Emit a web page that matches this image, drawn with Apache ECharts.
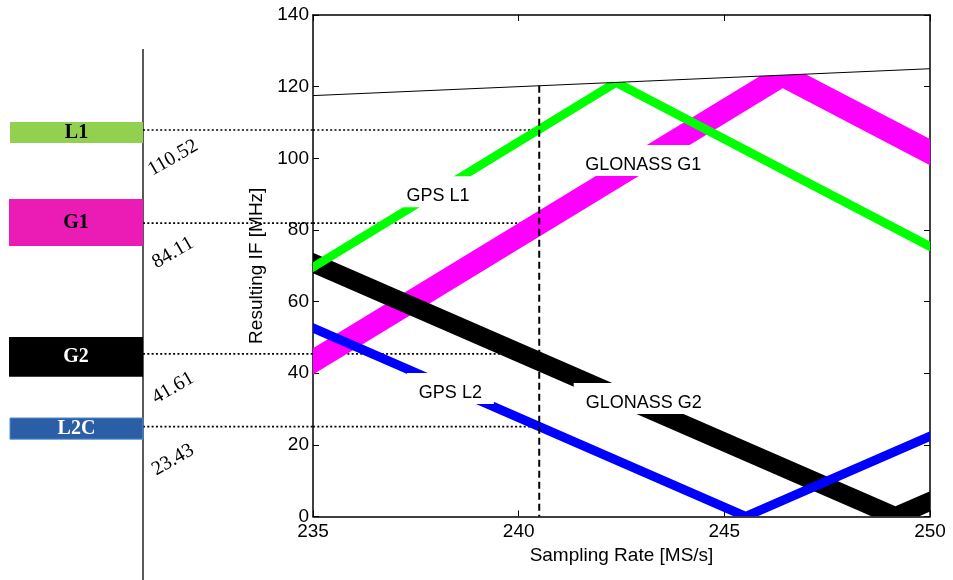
<!DOCTYPE html>
<html><head><meta charset="utf-8">
<script src="https://cdn.jsdelivr.net/npm/echarts@6/dist/echarts.min.js"></script>
<style>html,body{margin:0;padding:0;background:#fff}#c{width:953px;height:580px}</style>
</head><body><div id="c"></div><script>
// ---- axis ticks ----
const xTickValues = [235, 240, 245, 250];
const yTickValues = [0, 20, 40, 60, 80, 100, 120, 140];

// ---- band edges [sampling rate, IF] ----
const gpsL1Upper = [[235, 71.0], [242.15, 121.08], [242.58, 121.29], [250, 76.8]];
const gpsL1Lower = [[235, 68.2], [242.37, 119.79], [250, 74.0]];
const glonassG1Upper = [[235, 46.94], [245.86, 122.93], [246.98, 123.49], [250, 105.38]];
const glonassG1Lower = [[235, 39.63], [246.42, 119.55], [250, 98.06]];
const glonassG2Upper = [[235, 73.63], [249.16, 2.84], [250, 7.06]];
const glonassG2Lower = [[235, 67.94], [248.59, 0], [249.73, 0], [250, 1.38]];
const gpsL2Upper = [[235, 54.0], [245.52, 1.4], [250, 23.8]];
const gpsL2Lower = [[235, 51.2], [245.24, 0], [245.8, 0], [250, 21.0]];

// Nyquist (fs/2) line and chosen sampling rate
const nyquistLine = [[235, 117.5], [250, 125]];
const chosenRate = [[240.5, 120.25], [240.5, 0]];

// resulting IF levels at the chosen rate
const ifLevels = [107.9, 81.9, 45.4, 25.1];

// band labels (text centre positions)
const bandLabels = ['GPS L1', 'GLONASS G1', 'GPS L2', 'GLONASS G2'];
const bandLabelPos = [[238.04, 89.4], [243.03, 98.1], [238.34, 34.5], [243.04, 31.7]];

// left schematic panel
const panelBarNames = ['L1', 'G1', 'G2', 'L2C'];
const panelBarLeft = [10, 9, 9, 10];
const panelBarTop = [110.1, 88.6, 50.1, 27.5];
const panelBarBottom = [104.3, 75.5, 39.0, 21.6];
const panelDividerX = 143;
const panelDividerRange = [130.5, -17.7];
const panelValues = ['110.52', '84.11', '41.61', '23.43'];
const panelValueY = [100.1, 73.6, 35.9, 15.8];
const panelValueX = 173;

const barFill = ['#92d050', '#eb1cb5', '#000000', '#2b5ea5'];
const barText = ['#000', '#000', '#fff', '#fff'];

const SANS = '"Liberation Sans", Arial, Helvetica, sans-serif';
const SERIF = '"Liberation Serif", "Times New Roman", serif';
const LABEL_FONT = '18px ' + SANS;

const measureCtx = document.createElement('canvas').getContext('2d');
function textWidth(t, font) { measureCtx.font = font; return measureCtx.measureText(t).width; }

function bandSeries(name, upper, lower, color, z) {
  return {
    type: 'custom', name: name, xAxisIndex: 0, yAxisIndex: 0, z: z, clip: true,
    data: [upper[0]],
    renderItem: function (params, api) {
      const pts = upper.concat(lower.slice().reverse()).map(p => api.coord(p));
      return { type: 'polygon', shape: { points: pts }, style: { fill: color } };
    }
  };
}

const axisBase = {
  axisLine: { show: true, onZero: false, lineStyle: { color: '#000', width: 1.5 } },
  axisTick: { show: true, inside: true, length: 6, lineStyle: { color: '#000', width: 1 } },
  splitLine: { show: false }
};

const option = {
  animation: false,
  backgroundColor: '#fff',
  grid: [
    { left: 313, right: 23, top: 15, bottom: 63.5 },
    { left: 0, width: 313, top: 15, bottom: 63.5 }
  ],
  xAxis: [
    Object.assign({}, axisBase, {
      type: 'value', gridIndex: 0, position: 'bottom',
      min: xTickValues[0], max: xTickValues[xTickValues.length - 1], interval: xTickValues[1] - xTickValues[0],
      axisLabel: { color: '#000', fontSize: 19, fontFamily: SANS, margin: 6 },
      name: 'Sampling Rate [MS/s]', nameLocation: 'middle', nameGap: 30,
      nameTextStyle: { color: '#000', fontSize: 19, fontFamily: SANS }
    }),
    Object.assign({}, axisBase, {
      type: 'value', gridIndex: 0, position: 'top',
      min: xTickValues[0], max: xTickValues[xTickValues.length - 1], interval: xTickValues[1] - xTickValues[0],
      axisLabel: { show: false }
    }),
    { type: 'value', gridIndex: 1, min: 0, max: 313, show: false }
  ],
  yAxis: [
    Object.assign({}, axisBase, {
      type: 'value', gridIndex: 0, position: 'left',
      min: yTickValues[0], max: yTickValues[yTickValues.length - 1], interval: yTickValues[1] - yTickValues[0],
      axisLabel: { color: '#000', fontSize: 19, fontFamily: SANS, margin: 4 },
      name: 'Resulting IF [MHz]', nameLocation: 'middle', nameGap: 45,
      nameTextStyle: { color: '#000', fontSize: 19, fontFamily: SANS }
    }),
    Object.assign({}, axisBase, {
      type: 'value', gridIndex: 0, position: 'right',
      min: yTickValues[0], max: yTickValues[yTickValues.length - 1], interval: yTickValues[1] - yTickValues[0],
      axisLabel: { show: false }
    }),
    { type: 'value', gridIndex: 1, min: yTickValues[0], max: yTickValues[yTickValues.length - 1], show: false }
  ],
  series: [
    // dotted IF levels in main plot
    {
      type: 'custom', xAxisIndex: 0, yAxisIndex: 0, z: 1,
      data: ifLevels.map(v => [chosenRate[0][0], v]),
      renderItem: function (params, api) {
        const y = api.value(1);
        const a = api.coord([xTickValues[0], y]);
        const b = api.coord([api.value(0), y]);
        return { type: 'line', shape: { x1: a[0], y1: a[1], x2: b[0], y2: b[1] },
          style: { stroke: '#000', lineWidth: 1.6, lineDash: [2, 2.3] } };
      }
    },
    bandSeries('GLONASS G1', glonassG1Upper, glonassG1Lower, '#ff00ff', 2),
    bandSeries('GLONASS G2', glonassG2Upper, glonassG2Lower, '#000000', 3),
    bandSeries('GPS L1', gpsL1Upper, gpsL1Lower, '#00ff00', 4),
    bandSeries('GPS L2', gpsL2Upper, gpsL2Lower, '#0000ff', 5),
    {
      type: 'line', xAxisIndex: 0, yAxisIndex: 0, z: 6, data: nyquistLine,
      symbol: 'none', lineStyle: { color: '#000', width: 1 }
    },
    {
      type: 'line', xAxisIndex: 0, yAxisIndex: 0, z: 7, data: chosenRate,
      symbol: 'none', lineStyle: { color: '#000', width: 2, type: [7, 4] }
    },
    // band labels with white boxes
    {
      type: 'custom', xAxisIndex: 0, yAxisIndex: 0, z: 10,
      data: bandLabelPos,
      renderItem: function (params, api) {
        const i = params.dataIndex;
        const p = api.coord([api.value(0), api.value(1)]);
        const w = textWidth(bandLabels[i], LABEL_FONT);
        return {
          type: 'group', children: [
            { type: 'rect', shape: { x: p[0] - w / 2 - 12, y: p[1] - 20, width: w + 24, height: 31 },
              style: { fill: '#fff' } },
            { type: 'text', x: p[0], y: p[1],
              style: { text: bandLabels[i], font: LABEL_FONT, fill: '#000', align: 'center', verticalAlign: 'middle' } }
          ]
        };
      }
    },
    // left panel: dotted level lines
    {
      type: 'custom', xAxisIndex: 2, yAxisIndex: 2, z: 1,
      data: ifLevels.map(v => [panelDividerX, v]),
      renderItem: function (params, api) {
        const y = api.value(1);
        const a = api.coord([api.value(0), y]);
        const b = api.coord([313, y]);
        return { type: 'line', shape: { x1: a[0], y1: a[1], x2: b[0], y2: b[1] },
          style: { stroke: '#000', lineWidth: 1.6, lineDash: [2, 2.3] } };
      }
    },
    // left panel: divider
    {
      type: 'custom', xAxisIndex: 2, yAxisIndex: 2, z: 2, clip: false,
      data: [[panelDividerX, panelDividerRange[0], panelDividerRange[1]]],
      renderItem: function (params, api) {
        const a = api.coord([api.value(0), api.value(1)]);
        const b = api.coord([api.value(0), api.value(2)]);
        return { type: 'line', shape: { x1: a[0], y1: a[1], x2: b[0], y2: b[1] },
          style: { stroke: '#000', lineWidth: 1.3 } };
      }
    },
    // left panel: coloured bars
    {
      type: 'custom', xAxisIndex: 2, yAxisIndex: 2, z: 3, clip: false,
      data: panelBarNames.map((n, i) => [panelBarLeft[i], panelBarTop[i], panelBarBottom[i]]),
      renderItem: function (params, api) {
        const i = params.dataIndex;
        const a = api.coord([api.value(0), api.value(1)]);
        const b = api.coord([panelDividerX, api.value(2)]);
        return {
          type: 'rect',
          shape: { x: a[0], y: a[1], width: b[0] - a[0], height: b[1] - a[1] },
          style: { fill: barFill[i], stroke: i === 3 ? '#4f8fd0' : null, lineWidth: 1 },
          textContent: { style: { text: panelBarNames[i], fill: barText[i], font: 'bold 20px ' + SERIF } },
          textConfig: { position: 'inside' }
        };
      }
    },
    // left panel: rotated values
    {
      type: 'custom', xAxisIndex: 2, yAxisIndex: 2, z: 4, clip: false,
      data: panelValueY.map(v => [panelValueX, v]),
      renderItem: function (params, api) {
        const i = params.dataIndex;
        const p = api.coord([api.value(0), api.value(1)]);
        return { type: 'text', x: p[0], y: p[1], rotation: Math.PI / 6,
          style: { text: panelValues[i], font: '20px ' + SERIF, fill: '#000', align: 'center', verticalAlign: 'middle' } };
      }
    }
  ]
};

const chart = echarts.init(document.getElementById('c'), null, { renderer: 'canvas' });
chart.setOption(option);
</script></body></html>
